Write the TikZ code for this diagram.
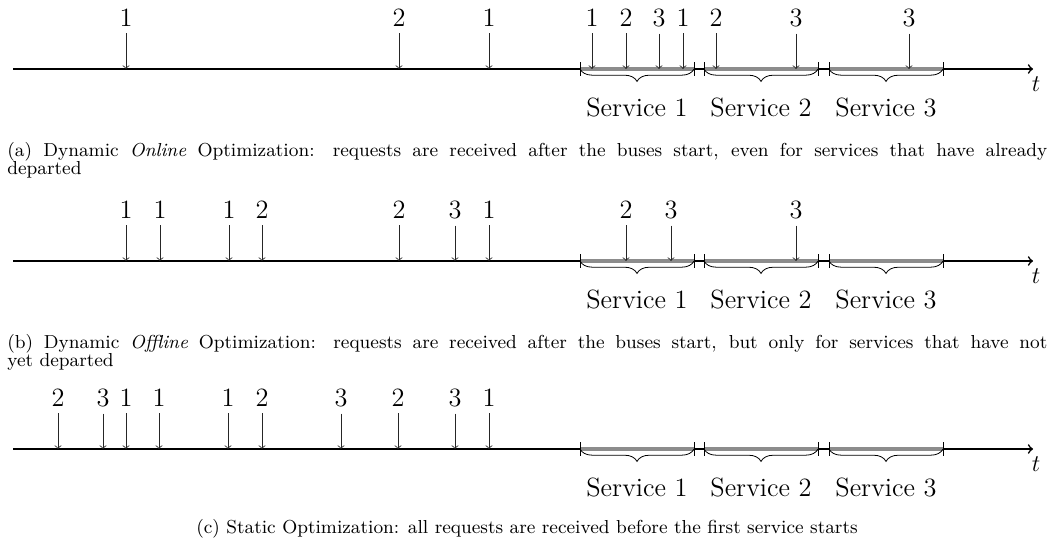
\documentclass[tikz,border=0pt]{standalone}
\usetikzlibrary{decorations.pathreplacing}
\tikzset{
  lab/.style={font=\fontsize{13.2}{15}\selectfont, anchor=base},
  tlab/.style={font=\fontsize{13.2}{15}\selectfont, anchor=north},
  req/.style={->, black!85, line width=0.4pt},
  axisline/.style={->, thick},
  tickm/.style={line width=0.4pt},
  greybar/.style={line width=2.2pt, black!45},
  brc/.style={decorate, decoration={brace, mirror, amplitude=6.2pt}, line width=0.4pt},
  capbox/.style={font=\fontsize{9.4}{9}\selectfont, anchor=base west, text width=520pt, inner sep=0pt, align=justify},
  capc/.style={font=\fontsize{9.4}{9}\selectfont, anchor=base, inner sep=0pt},
}
\newcommand\mypanel[3]{%
  \coordinate (#1s) at (13,#2);
  \coordinate (#1e) at (1033,#2);
  \draw[axisline] (#1s) -- (#1e);
  \node[tlab] (#1t) at (1036,{#2+1}) {$t$};
  \foreach \s/\e [count=\k] in {580/694, 704/818, 829/943} {
    \coordinate (#1sa\k) at (\s,#2);
    \coordinate (#1sb\k) at (\e,#2);
    \coordinate (#1ta\k) at (\s,{#2-7});
    \coordinate (#1tb\k) at (\s,{#2+7});
    \coordinate (#1tc\k) at (\e,{#2-7});
    \coordinate (#1td\k) at (\e,{#2+7});
    \draw[greybar] (#1sa\k) -- (#1sb\k);
    \draw[tickm] (#1ta\k) -- (#1tb\k);
    \draw[tickm] (#1tc\k) -- (#1td\k);
    \draw[brc] (#1sa\k) -- (#1sb\k);
    \pgfmathsetmacro\mid{(\s+\e)/2}
    \node[lab] (#1sv\k) at (\mid,{#2+47}) {Service \k};
  }
  \foreach \x/\l [count=\i] in {#3} {
    \node[lab] (#1r\i) at (\x,{#2-43}) {\l};
    \coordinate (#1q\i) at (\x,#2);
    \draw[req] (#1r\i) -- (#1q\i);
  }
}
\begin{document}
\begin{tikzpicture}[x={(0.5pt,0)},y={(0,-0.5pt)}]
\useasboundingbox (0,0) rectangle (1054,546);
\mypanel{a}{69}{126/1, 399/2, 489/1, 592/1, 626/2, 659/3, 683/1, 716/2, 796/3, 909/3}
\node[capbox] (capa) at (7,156) {(a) Dynamic \emph{Online} Optimization: requests are received after the buses start, even for services that have already\linebreak departed};
\mypanel{b}{261}{126/1, 160/1, 229/1, 262/2, 399/2, 455/3, 489/1, 626/2, 671/3, 796/3}
\node[capbox] (capb) at (7,348) {(b) Dynamic \emph{Offline} Optimization: requests are received after the buses start, but only for services that have not\linebreak yet departed};
\mypanel{c}{449}{58/2, 103/3, 126/1, 159/1, 228/1, 262/2, 341/3, 398/2, 455/3, 489/1}
\node[capc] (capcc) at (527,533) {(c) Static Optimization: all requests are received before the first service starts};
\end{tikzpicture}
\end{document}
